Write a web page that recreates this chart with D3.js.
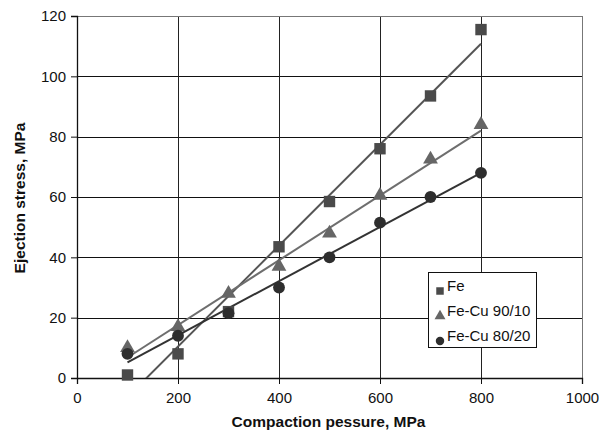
<!DOCTYPE html>
<html>
<head>
<meta charset="utf-8">
<script src="https://cdn.jsdelivr.net/npm/d3@7"></script>
<style>
  body { margin: 0; background: #fff; }
  svg { display: block; font-family: "Liberation Sans", Arial, sans-serif; }
</style>
</head>
<body>
<div id="chart"></div>
<script>
// Compaction pressure (MPa)
const pressure = [100, 200, 300, 400, 500, 600, 700, 800];
// Ejection stress (MPa)
const fe = [1, 8, 22, 43.5, 58.5, 76, 93.5, 115.5];
const feCu9010 = [10, 17, 28, 37, 48, 60.5, 72.5, 84];
const feCu8020 = [8, 14, 21.5, 30, 40, 51.5, 60, 68];
// Trend line end points [x, y]
const feTrend = [[100, -6.3], [800, 110.8]];
const fe9010Trend = [[100, 6.8], [800, 82]];
const fe8020Trend = [[100, 5.2], [800, 68]];

const xTicks = [0, 200, 400, 600, 800, 1000];
const yTicks = [0, 20, 40, 60, 80, 100, 120];

const series = [
  {name: "Fe", values: fe, trend: feTrend, shape: d3.symbolSquare, fill: "#4a4a4a", stroke: "#555"},
  {name: "Fe-Cu 90/10", values: feCu9010, trend: fe9010Trend, shape: d3.symbolTriangle, fill: "#666", stroke: "#6e6e6e"},
  {name: "Fe-Cu 80/20", values: feCu8020, trend: fe8020Trend, shape: d3.symbolCircle, fill: "#2e2e2e", stroke: "#333"}
];

const W = 599, H = 437;
const margin = {top: 16, right: 17, bottom: 59, left: 77};
const width = W - margin.left - margin.right;
const height = H - margin.top - margin.bottom;

const svg = d3.select("#chart").append("svg")
  .attr("width", W).attr("height", H);

const g = svg.append("g")
  .attr("transform", `translate(${margin.left},${margin.top})`);

const x = d3.scaleLinear().domain([0, 1000]).range([0, width]);
const y = d3.scaleLinear().domain([0, 120]).range([height, 0]);

// grid
g.append("g").selectAll("line").data(yTicks.slice(1, -1)).join("line")
  .attr("x1", 0).attr("x2", width)
  .attr("y1", d => Math.round(y(d)) + 0.5).attr("y2", d => Math.round(y(d)) + 0.5)
  .attr("stroke", "#111").attr("stroke-width", 1);
g.append("g").selectAll("line").data(xTicks.slice(1, -1)).join("line")
  .attr("y1", 0).attr("y2", height)
  .attr("x1", d => Math.round(x(d)) + 0.5).attr("x2", d => Math.round(x(d)) + 0.5)
  .attr("stroke", "#222").attr("stroke-width", 1);

// frame
g.append("rect").attr("x", 0.5).attr("y", 0.5)
  .attr("width", width).attr("height", height)
  .attr("fill", "none").attr("stroke", "#777").attr("stroke-width", 1);

// axes
const xAxis = g.append("g").attr("transform", `translate(0,${height})`)
  .call(d3.axisBottom(x).tickValues(xTicks).tickSize(6).tickPadding(8).tickFormat(d3.format("d")));
const yAxis = g.append("g")
  .call(d3.axisLeft(y).tickValues(yTicks).tickSize(6).tickPadding(5).tickFormat(d3.format("d")));
[xAxis, yAxis].forEach(a => {
  a.select(".domain").attr("stroke", "#111").attr("stroke-width", 1.3);
  a.selectAll(".tick line").attr("stroke", "#111");
  a.selectAll("text").attr("font-size", 15).attr("fill", "#111")
    .attr("font-family", "'Liberation Sans', Arial, sans-serif");
});
xAxis.selectAll(".tick line").attr("y1", 0);

// clip for trend lines
svg.append("defs").append("clipPath").attr("id", "plotclip")
  .append("rect").attr("width", width).attr("height", height);

const line = d3.line().x(d => x(d[0])).y(d => y(d[1]));
g.append("g").attr("clip-path", "url(#plotclip)")
  .selectAll("path").data(series).join("path")
  .attr("d", d => line(d.trend))
  .attr("fill", "none").attr("stroke", d => d.stroke).attr("stroke-width", 2);

// markers
series.forEach(s => {
  const size = s.shape === d3.symbolSquare ? 130 : s.shape === d3.symbolTriangle ? 95 : 110;
  g.append("g").selectAll("path").data(s.values).join("path")
    .attr("transform", (d, i) => `translate(${x(pressure[i])},${y(d)})`)
    .attr("d", d3.symbol().type(s.shape).size(size))
    .attr("fill", s.fill);
});

// legend
const lg = svg.append("g").attr("transform", "translate(428,272)");
lg.append("rect").attr("x", 0.5).attr("y", 0.5).attr("width", 108).attr("height", 75)
  .attr("fill", "#fff").attr("stroke", "#111").attr("stroke-width", 1);
series.forEach((s, i) => {
  const cy = 14 + i * 25;
  const size = s.shape === d3.symbolSquare ? 56 : s.shape === d3.symbolTriangle ? 52 : 56;
  lg.append("path")
    .attr("transform", `translate(12,${cy + 5})`)
    .attr("d", d3.symbol().type(s.shape).size(size))
    .attr("fill", s.fill);
  lg.append("text").attr("x", 19).attr("y", cy + 5)
    .attr("font-size", 15).attr("fill", "#111").text(s.name);
});

// axis titles
svg.append("text").attr("x", margin.left + width / 2 - 1).attr("y", 427)
  .attr("text-anchor", "middle").attr("font-size", 15.5).attr("font-weight", "bold")
  .attr("fill", "#111").text("Compaction pessure, MPa");
svg.append("text")
  .attr("transform", `translate(25,198) rotate(-90)`)
  .attr("text-anchor", "middle").attr("font-size", 15.5).attr("font-weight", "bold")
  .attr("fill", "#111").text("Ejection stress, MPa");
</script>
</body>
</html>
